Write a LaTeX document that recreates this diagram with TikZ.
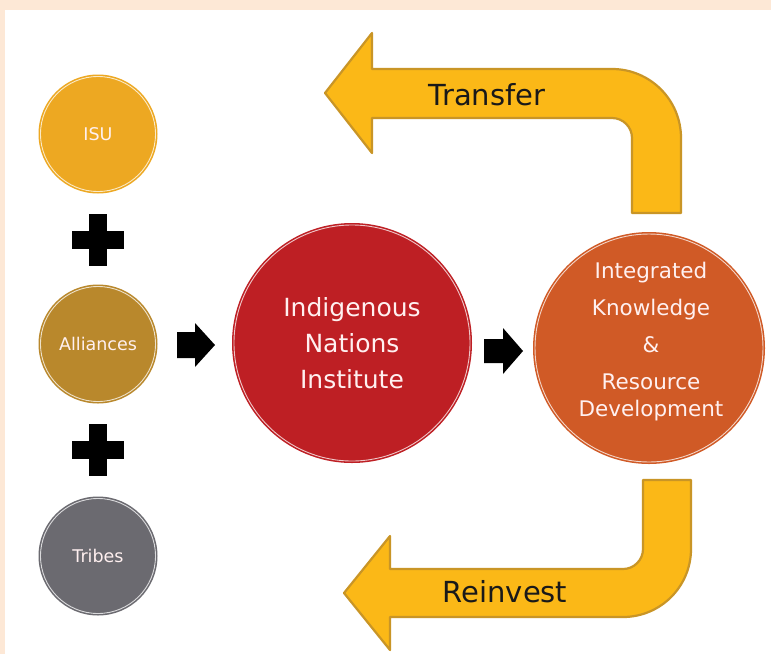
\documentclass[tikz,border=0pt]{standalone}
\usepackage{fontspec}
\newfontfamily\labelfont{DejaVu Sans}
\definecolor{peach}{HTML}{FDE8D6}
\definecolor{isucol}{HTML}{EDA822}
\definecolor{allicol}{HTML}{B9882C}
\definecolor{tribecol}{HTML}{6B6A70}
\definecolor{inicol}{HTML}{BE1F24}
\definecolor{ikrdcol}{HTML}{D05A26}
\definecolor{bentfill}{HTML}{FBB817}
\definecolor{bentedge}{HTML}{C99526}
\begin{document}
\begin{tikzpicture}[x=1pt,y=-1pt,
  circ/.style={circle,inner sep=0pt,minimum size=#1,align=center,
    text=white!94!red,font=\labelfont},
  small/.style={font=\labelfont\fontsize{17.5}{20}\selectfont},
  bent/.style={fill=bentfill,draw=bentedge,line width=2.2pt,line join=round},
  bentlabel/.style={font=\labelfont\fontsize{29}{32}\selectfont,text=black!90},
  ring/.style={draw=white,opacity=.75,line width=.9pt},
  blockarrow/.style={fill=black}]
% page and panel
\useasboundingbox (0,0) rectangle (771,654);
\fill[peach] (0,0) rectangle (771,654);
\fill[white] (5,10) rectangle (771,654);

% partner circles
\node[circ=119pt,fill=isucol,small] (isu) at (98,134) {ISU};
\node[circ=119pt,fill=allicol,small] (alli) at (98,344) {Alliances};
\node[circ=119pt,fill=tribecol,small] (tribes) at (98,556) {Tribes};
\foreach \n in {isu,alli,tribes}
  \draw[ring] (\n.center) circle (57.5);

% plus signs
\foreach \yy in {240,450}{
  \fill[black] (89,\yy-26) rectangle (107,\yy+26);
  \fill[black] (72,\yy-9) rectangle (124,\yy+9);
}

% institute and development circles
\node[circ=240pt,fill=inicol,font=\labelfont\fontsize{25}{36}\selectfont]
  (ini) at (352,343) {Indigenous\\Nations\\Institute};
\draw[ring] (ini.center) circle (118);
\node[circ=232pt,fill=ikrdcol] (ikrd) at (649,348) {};
\draw[ring] (ikrd.center) circle (114);
\node[align=center,text=white!94!red,font=\labelfont\fontsize{21.5}{37}\selectfont]
  (ikrdtext) at (651,342) {Integrated\\Knowledge\\\&\\Resource\\[-10pt]Development};

% block arrows between stages
\fill[blockarrow] (177,332) -- (195,332) -- (195,323) -- (215,345)
  -- (195,367) -- (195,358) -- (177,358) -- cycle;
\fill[blockarrow] (484,339) -- (503,339) -- (503,328) -- (523,351)
  -- (503,374) -- (503,363) -- (484,363) -- cycle;

% bent feedback arrows
\draw[bent] (325,93) -- (372,33) -- (372,69) -- (612,69)
  arc[start angle=-90,end angle=0,radius=69] -- (681,213) -- (632,213)
  -- (632,138) arc[start angle=0,end angle=-90,radius=20]
  -- (372,118) -- (372,153) -- cycle;
\node[bentlabel] (transfer) at (487,95) {Transfer};

\draw[bent] (344,593) -- (390,536) -- (390,569) -- (623,569)
  arc[start angle=90,end angle=0,radius=20] -- (643,480) -- (691,480)
  -- (691,549) arc[start angle=0,end angle=90,radius=68]
  -- (390,617) -- (390,650) -- cycle;
\node[bentlabel] (reinvest) at (505,592) {Reinvest};
\end{tikzpicture}
\end{document}
